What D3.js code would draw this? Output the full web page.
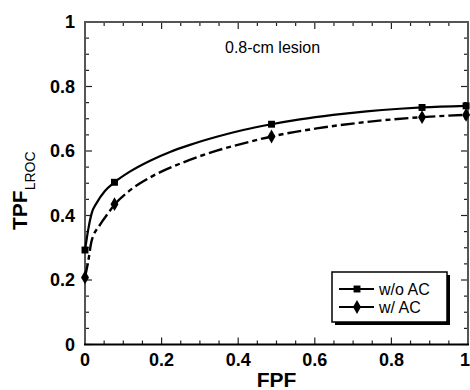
<!DOCTYPE html>
<html>
<head>
<meta charset="utf-8">
<style>
  body { margin: 0; background: #fff; }
  svg { display: block; }
  text { font-family: "Liberation Sans", Arial, sans-serif; }
</style>
<script src="https://d3js.org/d3.v7.min.js"></script>
</head>
<body>
<svg id="chart" width="470" height="390"></svg>
<script>
// operating points (markers)
var fpfPoints = [0, 0.077, 0.487, 0.88, 0.995];
var tpfNoAC = [0.293, 0.503, 0.683, 0.735, 0.740];
var tpfAC   = [0.208, 0.435, 0.645, 0.705, 0.712];

// fitted curves
var curveNoAC = [[0,0.293],[0.004,0.324],[0.009,0.36],[0.017,0.405],[0.031,0.44],[0.052,0.476],
  [0.077,0.503],[0.117,0.536],[0.17,0.57],[0.222,0.597],[0.274,0.619],[0.344,0.644],[0.413,0.665],
  [0.487,0.683],[0.561,0.698],[0.648,0.712],[0.735,0.723],[0.822,0.731],[0.88,0.735],[0.995,0.74]];
var curveAC = [[0,0.208],[0.009,0.262],[0.017,0.32],[0.039,0.371],[0.061,0.408],[0.078,0.435],
  [0.113,0.474],[0.17,0.518],[0.257,0.565],[0.344,0.601],[0.431,0.629],[0.487,0.645],[0.605,0.67],
  [0.735,0.69],[0.88,0.705],[0.995,0.712]];

var tickLabels = [0, 0.2, 0.4, 0.6, 0.8, 1];
var minorTicks = d3.range(0, 1.0001, 0.05);

var svg = d3.select("#chart");
var pLeft = 85, pRight = 468, pTop = 22, pBottom = 344.5;

var x = d3.scaleLinear().domain([0, 1]).range([pLeft, pRight]);
var y = d3.scaleLinear().domain([0, 1]).range([pBottom, pTop]);

var isMajor = function(v){ return Math.abs(v*5 - Math.round(v*5)) < 1e-6; };

// ticks, inward on all four sides
var tk = svg.append("g").attr("stroke", "#222").attr("stroke-width", 1.2);
minorTicks.forEach(function(v){
    var len = isMajor(v) ? 7 : 4;
    tk.append("line").attr("x1", x(v)).attr("x2", x(v)).attr("y1", pBottom).attr("y2", pBottom - len);
    tk.append("line").attr("x1", x(v)).attr("x2", x(v)).attr("y1", pTop).attr("y2", pTop + len);
    tk.append("line").attr("x1", pLeft).attr("x2", pLeft + len).attr("y1", y(v)).attr("y2", y(v));
    tk.append("line").attr("x1", pRight).attr("x2", pRight - len).attr("y1", y(v)).attr("y2", y(v));
});

// frame
svg.append("path")
    .attr("d", "M"+pLeft+","+pBottom+" V"+pTop+" H"+pRight+" V"+pBottom)
    .attr("fill", "none").attr("stroke", "#555").attr("stroke-width", 2);
svg.append("line").attr("x1", pLeft-1).attr("x2", pRight+1).attr("y1", pBottom).attr("y2", pBottom)
    .attr("stroke", "#000").attr("stroke-width", 2);

// tick labels
svg.selectAll(".xl").data(tickLabels).enter().append("text")
    .attr("x", function(d){ return d === 1 ? 470 : x(d); })
    .attr("y", 366)
    .attr("text-anchor", function(d){ return d === 1 ? "end" : "middle"; })
    .style("font-size", "18px").style("font-weight", "bold")
    .text(function(d){ return d; });
svg.selectAll(".yl").data(tickLabels).enter().append("text")
    .attr("x", 75)
    .attr("y", function(d){ return y(d) + 6; })
    .attr("text-anchor", "end")
    .style("font-size", "18px").style("font-weight", "bold")
    .text(function(d){ return d; });

// axis titles
svg.append("text").attr("x", x(0.5)).attr("y", 387).attr("text-anchor", "middle")
    .style("font-size", "21px").style("font-weight", "bold").text("FPF");
var yt = svg.append("text").attr("transform", "translate(27,230) rotate(-90)")
    .style("font-size", "21px").style("font-weight", "bold");
yt.append("tspan").text("TPF");
yt.append("tspan").attr("dy", 8).style("font-size", "14px").style("font-weight", "normal").text("LROC");

// annotation
svg.append("text").attr("x", 225).attr("y", 53)
    .style("font-size", "16px").text("0.8-cm lesion");

// curves
var line = d3.line().x(function(d){ return x(d[0]); }).y(function(d){ return y(d[1]); })
    .curve(d3.curveMonotoneX);
svg.append("path").attr("d", line(curveNoAC)).attr("fill", "none")
    .attr("stroke", "#000").attr("stroke-width", 2.2);
svg.append("path").attr("d", line(curveAC)).attr("fill", "none")
    .attr("stroke", "#000").attr("stroke-width", 2.4).attr("stroke-dasharray", "14,4,5,4");

// markers
var sq = d3.symbol().type(d3.symbolSquare).size(48);
var dm = d3.symbol().type(d3.symbolDiamond).size(55);
svg.selectAll(".m1").data(fpfPoints).enter().append("path")
    .attr("d", sq).attr("fill", "#000")
    .attr("transform", function(d, i){ return "translate("+x(d)+","+y(tpfNoAC[i])+")"; });
svg.selectAll(".m2").data(fpfPoints).enter().append("path")
    .attr("d", dm).attr("fill", "#000")
    .attr("transform", function(d, i){ return "translate("+x(d)+","+y(tpfAC[i])+")"; });

// legend
var lg = svg.append("g");
lg.append("rect").attr("x", 335).attr("y", 275).attr("width", 115).attr("height", 50).attr("fill", "#000");
lg.append("rect").attr("x", 332).attr("y", 272).attr("width", 115).attr("height", 50)
    .attr("fill", "#fff").attr("stroke", "#000").attr("stroke-width", 1.5);
var entries = [{label: "w/o AC", sym: sq, yy: 289}, {label: "w/ AC", sym: dm, yy: 307}];
entries.forEach(function(e){
    lg.append("line").attr("x1", 339).attr("x2", 374).attr("y1", e.yy).attr("y2", e.yy)
        .attr("stroke", "#000").attr("stroke-width", 2);
    lg.append("path").attr("d", e.sym).attr("fill", "#000")
        .attr("transform", "translate(357,"+e.yy+")");
    lg.append("text").attr("x", 379).attr("y", e.yy + 6).style("font-size", "16px").text(e.label);
});
</script>
</body>
</html>
